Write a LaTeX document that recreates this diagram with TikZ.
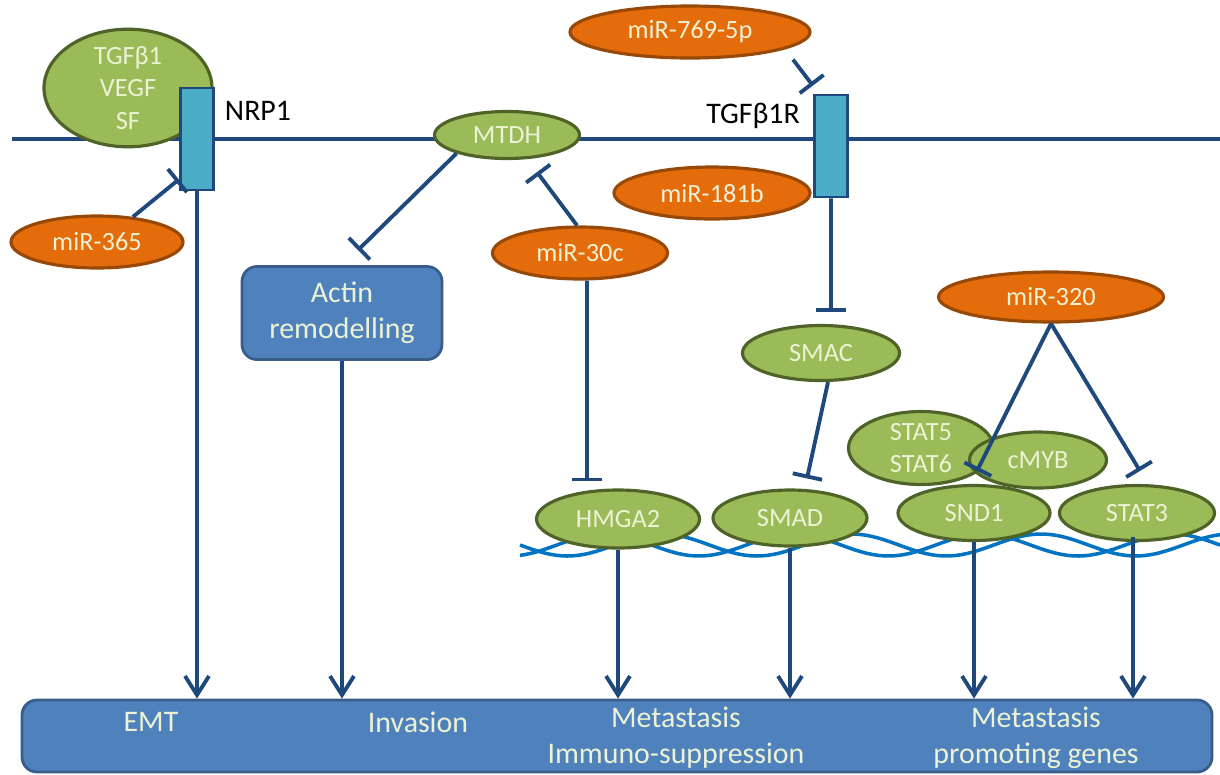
\documentclass[tikz,border=0pt]{standalone}
\usepackage{fontspec}
\setmainfont{Carlito}
\usetikzlibrary{arrows.meta,shapes.geometric,calc}

\definecolor{linecol}{RGB}{31,73,125}
\definecolor{genefill}{RGB}{155,187,89}
\definecolor{genedraw}{RGB}{79,98,40}
\definecolor{mirfill}{RGB}{228,108,10}
\definecolor{mirdraw}{RGB}{152,72,7}
\definecolor{recfill}{RGB}{75,172,198}
\definecolor{boxfill}{RGB}{79,129,189}
\definecolor{boxdraw}{RGB}{56,93,138}
\definecolor{paletext}{RGB}{236,242,212}
\definecolor{dnacol}{RGB}{0,115,195}

\tikzset{
  gene/.style={ellipse,draw=genedraw,fill=genefill,line width=1.8pt,inner sep=0pt,text=paletext},
  mirna/.style={ellipse,draw=mirdraw,fill=mirfill,line width=1.8pt,inner sep=0pt,text=paletext},
  receptor/.style={rectangle,draw=linecol,fill=recfill,line width=1.6pt,inner sep=0pt,minimum width=6.7mm,minimum height=20.4mm},
  bluebox/.style={rectangle,rounded corners=3mm,draw=boxdraw,fill=boxfill,line width=1.6pt,inner sep=0pt,text=paletext},
  bigtext/.style={font=\fontsize{17}{20.5}\selectfont},
  inhib/.style={draw=linecol,line width=2.2pt,-{Bar[width=6mm]}},
  act/.style={draw=linecol,line width=2.2pt,-{Straight Barb[length=3.8mm,width=4.8mm]}},
  dna/.style={draw=dnacol,line width=2pt}
}

\begin{document}
\begin{tikzpicture}[x=0.2mm,y=-0.2mm,every node/.style={align=center,font=\fontsize{15}{18.5}\selectfont}]
  \useasboundingbox (0,0) rectangle (1220,774);
  % membrane
  \draw[linecol,line width=2pt] (12,139) -- (1220,139);
  % DNA double strand
  \draw[dna] plot[domain=520:1220,samples=120] (\x,{545+11*sin(1.9*(\x-520))});
  \draw[dna] plot[domain=520:1220,samples=120] (\x,{545+11*sin(1.9*(\x-520)+110)});

  % ligands and receptors
  \node[gene,minimum width=33.6mm,minimum height=20.4mm] (lig) at (128,88) {TGFβ1\\VEGF\\SF};
  \node[receptor] (nrp1) at (197,139) {};
  \node[bigtext] (nrp1lab) at (258,111) {NRP1};
  \node[receptor] (tgfr) at (831,146) {};
  \node[bigtext,anchor=east] (tgfrlab) at (806,116) {TGFβ1R};
  \node[gene,minimum width=29mm,minimum height=9.4mm] (mtdh) at (507,135) {MTDH};

  % miRNAs
  \node[mirna,minimum width=34.4mm,minimum height=10.4mm] (mir365) at (97,242) {miR-365};
  \node[mirna,minimum width=48mm,minimum height=10.4mm] (mir769) at (690,32) {miR-769-5p};
  \node[mirna,minimum width=39.2mm,minimum height=10.4mm] (mir181) at (712,193) {miR-181b};
  \node[mirna,minimum width=35mm,minimum height=10.4mm] (mir30c) at (580,253) {miR-30c};
  \node[mirna,minimum width=45mm,minimum height=10mm] (mir320) at (1051,297) {miR-320};

  % actin box
  \node[bluebox,bigtext,minimum width=40mm,minimum height=18.6mm] (actin) at (342,313) {Actin\\remodelling};

  % nuclear factors
  \node[gene,minimum width=31.4mm,minimum height=11mm] (smac) at (821,353) {SMAC};
  \node[gene,minimum width=29mm,minimum height=14.6mm] (stat56) at (921,448) {STAT5\\STAT6};
  \node[gene,minimum width=27.4mm,minimum height=11.2mm] (cmyb) at (1038,460) {cMYB};
  \node[gene,minimum width=32.6mm,minimum height=11.6mm] (hmga) at (618,519) {HMGA2};
  \node[gene,minimum width=30.8mm,minimum height=11.2mm] (smad) at (790,518) {SMAD};
  \node[gene,minimum width=30.4mm,minimum height=11mm] (snd1) at (974,513) {SND1};
  \node[gene,minimum width=31mm,minimum height=11mm] (stat3) at (1137,513) {STAT3};

  % outcomes
  \node[bluebox,minimum width=238mm,minimum height=14.4mm] (out) at (617,736) {};
  \node[bigtext,text=paletext] (emt) at (151,722) {EMT};
  \node[bigtext,text=paletext] (inv) at (418,722) {Invasion};
  \node[bigtext,text=paletext] (meta) at (676,738) {Metastasis\\Immuno-suppression};
  \node[bigtext,text=paletext] (prom) at (1036,738) {Metastasis\\promoting genes};

  % inhibitions
  \draw[inhib] (mir365.35) -- ([yshift=2.4mm]nrp1.south west);
  \draw[inhib] (mtdh.200) -- ([xshift=3.2mm,yshift=3mm]actin.north);
  \draw[inhib] ([xshift=-0.6mm]mir30c.north) -- ([xshift=6mm,yshift=-2.4mm]mtdh.south);
  \draw[inhib] ([xshift=1.4mm]mir30c.south) -- ([xshift=-6.2mm,yshift=1.4mm]hmga.north);
  \draw[inhib] ([xshift=20.6mm]mir769.south) -- ([yshift=1.6mm]tgfr.north west);
  \draw[inhib] (tgfr.south) -- ([xshift=2mm,yshift=2.4mm]smac.north);
  \draw[inhib] ([xshift=1.4mm]smac.south) -- ([xshift=3.4mm,yshift=2mm]smad.north);
  \draw[inhib] (mir320.south) -- ([xshift=0.6mm,yshift=2.6mm]snd1.north);
  \draw[inhib] (mir320.south) -- ([xshift=0.6mm,yshift=2.6mm]stat3.north);

  % activations
  \draw[act] (nrp1.south) -- (nrp1.south |- out.north);
  \draw[act] (actin.south) -- (actin.south |- out.north);
  \draw[act] (hmga.south) -- (hmga.south |- out.north);
  \draw[act] (smad.south) -- (smad.south |- out.north);
  \draw[act] (snd1.south) -- (snd1.south |- out.north);
  \draw[act] ([xshift=-0.8mm,yshift=1mm]stat3.south) -- ([xshift=-0.8mm]stat3.south |- out.north);
\end{tikzpicture}
\end{document}
